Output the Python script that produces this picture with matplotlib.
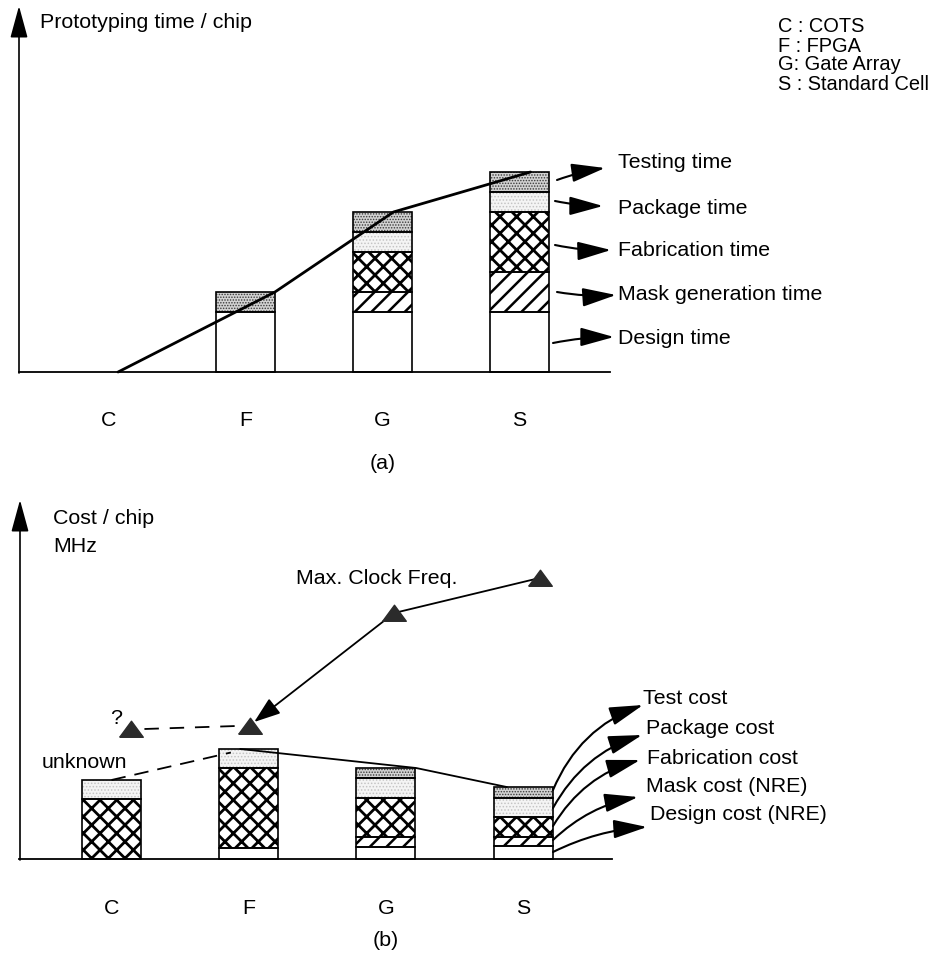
import matplotlib
matplotlib.use('Agg')
import matplotlib.pyplot as plt
import numpy as np

plt.rcParams['font.family'] = ['Liberation Sans', 'DejaVu Sans']

# ---------------- data ----------------
categories = ['C', 'F', 'G', 'S']
legend_lines = ['C : COTS', 'F : FPGA', 'G: Gate Array', 'S : Standard Cell']

# (a) prototyping time / chip (relative units), stacked bottom -> top
time_labels = ['Design time', 'Mask generation time', 'Fabrication time',
               'Package time', 'Testing time']
time_design = [0, 3, 3, 3]
time_mask = [0, 0, 1, 2]
time_fab = [0, 0, 2, 3]
time_package = [0, 0, 1, 1]
time_test = [0, 1, 1, 1]

# (b) cost / chip (relative units), stacked bottom -> top
cost_labels = ['Design cost (NRE)', 'Mask cost (NRE)', 'Fabrication cost',
               'Package cost', 'Test cost']
cost_design = [0, 1.1, 1.2, 1.3]
cost_mask = [0, 0, 1.0, 0.9]
cost_fab = [6.0, 8.0, 3.9, 2.0]
cost_package = [1.9, 1.9, 2.0, 1.9]
cost_test = [0, 0, 1.0, 1.1]

# (b) maximum clock frequency (relative units, same vertical scale)
max_clock = [13.0, 13.3, 24.6, 28.1]

# ---------------- layout / style ----------------
W, H, DPI = 936, 957, 100
FS = 15.4
FS_LEG = 14.4
fig = plt.figure(figsize=(W / DPI, H / DPI), dpi=DPI)


def fp(x, y):
    return (x / W, 1 - y / H)


styles = [
    dict(face='white', hatch=None, hc='black', hlw=1.0),        # design
    dict(face='white', hatch='//', hc='black', hlw=1.8),        # mask
    dict(face='white', hatch='xx', hc='black', hlw=2.0),        # fabrication
    dict(face='#f4f4f4', hatch='.....', hc='#c4c4c4', hlw=0.7),  # package
    dict(face='#d2d2d2', hatch='......', hc='#3a3a3a', hlw=0.7),  # test
]

ax_a = fig.add_axes([0, 1 - 480 / H, 1, 480 / H])
ax_a.set_xlim((0 - 108.5) / 137, (W - 108.5) / 137)
ax_a.set_ylim((372 - 480) / 20, 372 / 20)
ax_a.axis('off')

ax_b = fig.add_axes([0, 0, 1, 477 / H])
ax_b.set_xlim((0 - 111.5) / 137.2, (W - 111.5) / 137.2)
ax_b.set_ylim((859 - 957) / 10, (859 - 480) / 10)
ax_b.axis('off')

BAR_W = 0.43
x = np.arange(len(categories))


def stacked(ax, segs):
    bottom = np.zeros(len(categories))
    for seg, st in zip(segs, styles):
        seg = np.asarray(seg, dtype=float)
        m = seg > 0
        if m.any():
            plt.rcParams['hatch.linewidth'] = st['hlw']
            bars = ax.bar(x[m], seg[m], bottom=bottom[m], width=BAR_W,
                          color=st['face'], edgecolor=st['hc'],
                          hatch=st['hatch'], linewidth=0, zorder=2)
            for b in bars:
                if hasattr(b, 'set_hatch_linewidth'):
                    b.set_hatch_linewidth(st['hlw'])
            ax.bar(x[m], seg[m], bottom=bottom[m], width=BAR_W, fill=False,
                   edgecolor='black', linewidth=1.2, zorder=3)
        bottom = bottom + seg
    return bottom


tot_a = stacked(ax_a, [time_design, time_mask, time_fab, time_package, time_test])
tot_b = stacked(ax_b, [cost_design, cost_mask, cost_fab, cost_package, cost_test])

# trend line of total prototyping time
line_dx_a = np.array([0.07, 0.215, 0.08, 0.08])
ax_a.plot(x + line_dx_a, tot_a, color='black', lw=2.0, zorder=4,
          solid_capstyle='round')

# cost trend (dashed for unknown COTS part)
cost_dx = np.array([0.0, -0.06, 0.22, -0.12])
ax_b.plot(x[1:] + cost_dx[1:], tot_b[1:], color='black', lw=1.3, zorder=4)
ax_b.plot([x[0], x[1] - 0.13], [tot_b[0], tot_b[1] - 0.35], color='black',
          lw=1.3, ls=(0, (8, 5)), zorder=4)

# max clock frequency (markers slightly right of the bar centres)
freq_dx = np.array([0.14, 0.01, 0.06, 0.12])
xf = x + freq_dx
tri = [(-1.0, -0.66), (1.0, -0.66), (0.0, 0.7), (-1.0, -0.66)]
ax_b.plot(xf, max_clock, ls='none', marker=tri, markersize=17,
          color='#2b2b2b', zorder=5)
ax_b.plot(xf[2:], max_clock[2:], color='black', lw=1.3, zorder=4)
ax_b.plot([xf[0] + 0.1, xf[1] - 0.1], [max_clock[0], max_clock[1]],
          color='black', lw=1.3, ls=(0, (8, 6)), zorder=4)
ax_b.annotate('', xy=(xf[1] + 0.03, max_clock[1] + 0.4),
              xytext=(xf[2], max_clock[2]),
              arrowprops=dict(arrowstyle='-|>,head_length=0.9,head_width=0.32',
                              mutation_scale=18, color='black', lw=1.3,
                              shrinkA=0, shrinkB=0), zorder=4)

# ---------------- axes (arrows + baselines) ----------------
ax_kw = dict(arrowstyle='-|>,head_length=1.1,head_width=0.3', mutation_scale=18,
             color='black', lw=1.2, shrinkA=0, shrinkB=0)
fig.add_artist(plt.Line2D([19 / W, 610 / W], [1 - 372 / H] * 2,
                          color='black', lw=1.3))
fig.add_artist(plt.Line2D([19 / W, 612 / W], [1 - 859 / H] * 2,
                          color='black', lw=1.3))
ax_a.annotate('', xy=fp(19, 6), xytext=fp(19, 373), xycoords='figure fraction',
              textcoords='figure fraction', arrowprops=ax_kw)
ax_b.annotate('', xy=fp(20, 500), xytext=fp(20, 860), xycoords='figure fraction',
              textcoords='figure fraction', arrowprops=ax_kw)

# ---------------- texts ----------------
fig.text(*fp(40, 22), 'Prototyping time / chip', fontsize=FS, va='center',
         ha='left')
fig.text(*fp(53, 519), 'Cost / chip', fontsize=FS, va='center', ha='left')
fig.text(*fp(53, 546), 'MHz', fontsize=FS, va='center', ha='left')

for i, line in enumerate(legend_lines):
    fig.text(*fp(778, 27 + 19.0 * i), line, fontsize=FS_LEG, va='center',
             ha='left')

for i, c in enumerate(categories):
    ax_a.text(x[i], (372 - 421) / 20, c, fontsize=FS, ha='center', va='center')
    ax_b.text(x[i], (859 - 908) / 10, c, fontsize=FS, ha='center', va='center')

fig.text(*fp(383, 463), '(a)', fontsize=FS, ha='center', va='center')
fig.text(*fp(386, 940), '(b)', fontsize=FS, ha='center', va='center')

fig.text(*fp(296, 579), 'Max. Clock Freq.', fontsize=FS, ha='left', va='center')
fig.text(*fp(116, 718), '?', fontsize=FS, ha='center', va='center')
fig.text(*fp(42, 762), 'unknown', fontsize=FS, ha='left', va='center')

# (a) labelled arrows
arr_kw = dict(arrowstyle='-|>,head_length=1.15,head_width=0.32', mutation_scale=18,
              color='black', lw=1.5, shrinkA=0, shrinkB=0)
time_arrows = [  # (start, end, rad, text y) bottom -> top
    ((553, 343), (614, 337), -0.05, 338),
    ((557, 292), (616, 295), 0.06, 295),
    ((555, 245), (611, 250), 0.06, 250),
    ((555, 201), (603, 206), 0.05, 208),
    ((557, 180), (605, 168), -0.05, 163),
]
for lab, (s, e, rad, ty) in zip(time_labels, time_arrows):
    fig.add_artist(matplotlib.patches.FancyArrowPatch(
        fp(*s), fp(*e), transform=fig.transFigure,
        connectionstyle=f'arc3,rad={rad}', **arr_kw))
    fig.text(*fp(618, ty), lab, fontsize=FS, ha='left', va='center')

cost_arrows = [
    ((553, 852), (647, 827), -0.1, 815, 650),
    ((553, 840), (638, 797), -0.15, 787, 646),
    ((553, 826), (640, 760), -0.2, 758, 647),
    ((553, 808), (642, 735), -0.2, 728, 646),
    ((553, 790), (643, 705), -0.22, 698, 643),
]
for lab, (s, e, rad, ty, tx) in zip(cost_labels, cost_arrows):
    fig.add_artist(matplotlib.patches.FancyArrowPatch(
        fp(*s), fp(*e), transform=fig.transFigure,
        connectionstyle=f'arc3,rad={rad}', **arr_kw))
    fig.text(*fp(tx, ty), lab, fontsize=FS, ha='left', va='center')

fig.savefig('out.png', dpi=DPI)
